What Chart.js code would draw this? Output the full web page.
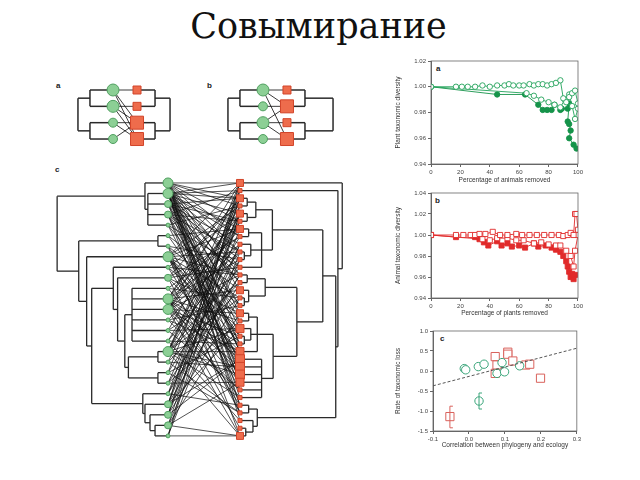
<!DOCTYPE html>
<html>
<head>
<meta charset="utf-8">
<script src="https://cdn.jsdelivr.net/npm/chart.js"></script>
<style>
  body { margin: 0; background: #fff; width: 640px; height: 480px; position: relative; overflow: hidden; }
  canvas { position: absolute; }
  .title { position: absolute; left: 0; width: 637px; top: 9px; text-align: center;
           font: 35px/35px "DejaVu Serif", "Liberation Serif", serif; color: #111; }
  .lbl { position: absolute; font: bold 8px "Liberation Sans", Arial, sans-serif; color: #222; }
</style>
</head>
<body>
<div class="title">Совымирание</div>
<div class="lbl" style="left:56px;top:81px">a</div>
<div class="lbl" style="left:207px;top:81px">b</div>
<div class="lbl" style="left:55px;top:165px">c</div>
<div class="lbl" style="left:436px;top:64px">a</div>
<div class="lbl" style="left:435px;top:196px">b</div>
<div class="lbl" style="left:440px;top:334px">c</div>

<canvas id="netA" width="120" height="70" style="left:60px;top:80px"></canvas>
<canvas id="netB" width="140" height="70" style="left:200px;top:80px"></canvas>
<canvas id="netC" width="310" height="280" style="left:40px;top:165px"></canvas>
<canvas id="plantDiv" width="192" height="130" style="left:393px;top:55px"></canvas>
<canvas id="animalDiv" width="192" height="131" style="left:393px;top:187px"></canvas>
<canvas id="lossChart" width="190" height="125" style="left:393px;top:325px"></canvas>

<script>
// ---- network panels: trees are [height, child, child...], leaves are indices ----
const smallPlantTree = [1.46, [0.96, 0, 1], [0.96, 2, 3]];
const smallAnimalTreeA = [1.375, [0.75, 0, 1], [0.75, 2, 3]];
const smallAnimalTreeB = [1.92, [0.75, 0, 1], [0.75, 2, 3]];
const plantSizeA = [6, 6, 4.5, 4.5];
const animalSizeA = [4, 4, 6.5, 6.5];
const linksA = [[0, 2, 3], [1, 2, 3], [2, 3], [2]];
const plantSizeB = [6, 4.5, 6, 4.5];
const animalSizeB = [4, 6.5, 4, 6.5];
const linksB = [[0, 1, 3], [1], [1, 2, 3], [3]];

const plantTree = [1.54,
  [0.32, 0, [0.28, 1, 2, 3, 4]],
  [1.24, [0.14, 5, 6],
    [1.13, 7,
      [1.06,
        [0.76, 8,
          [0.70, 9,
            [0.60,
              [0.50, 10, 11, 12, 13, 14, 15],
              [0.55, [0.14, 16, 17], [0.14, 18, 19]]]]],
        [0.35, 20, [0.32, 21, [0.25, 22, [0.18, 23, 24]]]]]]]];
const animalTree = [1.42, 0,
  [1.36, 1,
    [1.33,
      [1.15,
        [0.45,
          [0.22, [0.1, 2, 3], [0.1, 4, 5]],
          [0.30, [0.12, 6, 7], [0.15, 8, [0.06, 9, 10]], 11]],
        [0.79,
          [0.35, [0.1, 12, 13], [0.12, 14, [0.06, 15, 16]]],
          [0.46,
            [0.24, [0.12, 17, 18], [0.15, 19, [0.06, 20, 21]], 22],
            [0.30, 23, 24, 25, 26, 27, 28]]]],
      [0.24, [0.12, 29, 30], [0.18, 31, [0.08, 32, 33]]]]]];
const plantSize = [5, 5, 3.5, 3.5, 2, 2, 2, 5, 2, 3.5, 2, 5, 5, 2, 2, 2, 5, 2, 2, 2, 2, 3.5, 3.5, 3.5, 2];
const animalSize = [3.5, 2, 3.5, 2, 3.5, 2, 3.5, 2, 2, 2, 2, 2, 2, 2, 3.5, 2, 2,
  3.5, 2, 4, 2, 2, 4, 4.5, 4.5, 4.5, 4, 2, 2, 2, 2, 2, 2, 3.5];
const links = [
  [0, 2, 3, 5, 7, 9, 12, 14, 17, 20, 22, 24, 27, 29, 31],
  [0, 1, 2, 4, 6, 7, 9, 11, 13, 16, 19, 21, 22, 25, 26, 28, 30],
  [2, 5, 8, 10, 13, 18, 22, 26],
  [1, 5, 9, 12, 16, 21, 25, 29],
  [3, 11, 17, 24],
  [6, 14, 20],
  [10, 16, 23, 33],
  [0, 3, 6, 9, 12, 15, 18, 20, 21, 23, 24, 27, 30],
  [4, 12, 19, 26],
  [2, 7, 11, 17, 22, 30],
  [7, 15, 25],
  [0, 2, 5, 8, 10, 14, 18, 21, 23, 26, 29, 32],
  [1, 4, 6, 9, 12, 17, 20, 22, 24, 28, 33],
  [8, 16, 22, 27],
  [3, 13, 19, 27],
  [5, 9, 21, 31],
  [0, 2, 4, 7, 11, 13, 15, 19, 22, 24, 25, 28, 33],
  [4, 14, 24, 30],
  [1, 10, 20, 30],
  [5, 12, 18, 26],
  [2, 8, 12, 29],
  [0, 2, 6, 13, 19, 23],
  [1, 4, 8, 15, 23],
  [3, 10, 17, 26, 33],
  [0, 4, 9, 33]
];

// ---- right-hand panels ----
const aOpenTopX = [0, 17, 21, 25, 30, 35, 40, 45, 50, 53, 56, 60, 63, 67, 70, 73, 76, 79, 82, 85, 88, 90, 92, 94, 96, 98, 100];
const aOpenTopY = [1.000, 1.000, 1.000, 1.000, 1.000, 1.001, 1.000, 1.001, 1.001, 1.002, 1.001, 1.001, 1.001, 1.002, 1.001, 1.002, 1.002, 1.001, 1.002, 1.003, 1.005, 0.991, 0.988, 0.992, 0.995, 0.997, 0.987];
const aOpenLowX = [0, 65, 70, 75, 80, 84, 88, 91, 94, 96, 98, 100];
const aOpenLowY = [1.000, 0.995, 0.993, 0.990, 0.988, 0.986, 0.984, 0.990, 0.994, 0.985, 0.975, 0.983];
const aFilledX = [0, 45, 64, 73, 76, 79, 82, 84, 88, 89, 93, 94, 93, 94, 95, 94, 97, 99];
const aFilledY = [1.000, 0.994, 0.994, 0.986, 0.982, 0.982, 0.982, 0.986, 0.982, 0.983, 0.983, 0.987, 0.973, 0.971, 0.966, 0.960, 0.955, 0.952];

const bOpenTopX = [0, 17, 22, 27, 30, 33, 37, 42, 47, 52, 58, 62, 67, 72, 77, 82, 87, 90, 93, 95, 97, 98, 99, 100];
const bOpenTopY = [1.000, 1.000, 1.000, 1.000, 1.000, 1.001, 1.001, 1.003, 1.000, 1.000, 1.001, 1.000, 1.000, 1.000, 1.000, 1.000, 1.000, 0.999, 1.000, 1.002, 1.000, 1.020, 1.020, 1.005];
const bOpenLowX = [0, 35, 40, 45, 52, 58, 63, 70, 75, 80, 85, 88, 92, 95, 97, 98, 100];
const bOpenLowY = [1.000, 0.996, 0.995, 0.997, 0.997, 0.995, 0.995, 0.992, 0.993, 0.991, 0.990, 0.990, 0.985, 0.980, 0.970, 0.985, 1.000];
const bFilledX = [0, 17, 30, 33, 36, 39, 45, 48, 52, 55, 60, 64, 70, 73, 78, 82, 85, 88, 90, 92, 93, 94, 95, 96, 97, 98];
const bFilledY = [1.000, 0.998, 0.998, 0.996, 0.993, 0.990, 0.994, 0.990, 0.992, 0.989, 0.990, 0.988, 0.992, 0.989, 0.990, 0.988, 0.986, 0.984, 0.980, 0.975, 0.970, 0.965, 0.960, 0.963, 0.958, 0.962];

const plantCorr = [-0.013, -0.009, 0.026, 0.042, 0.078, 0.092, 0.099, 0.141, 0.028];
const plantRate = [0.06, 0.03, 0.11, 0.17, -0.06, 0.21, -0.02, 0.13, -0.75];
const plantErr = [-0.95, -0.55];
const animalCorr = [0.073, 0.078, 0.073, 0.108, 0.108, 0.122, 0.158, 0.169, 0.199, -0.053];
const animalRate = [0.36, 0.15, -0.06, 0.47, 0.42, 0.25, 0.15, 0.17, -0.18, -1.14];
const animalErr = [-1.42, -0.88];
const fitX = [-0.1, 0.3];
const fitY = [-0.37, 0.57];

const GREEN_FILL = '#8ccf95', GREEN_EDGE = '#4f9f5f';
const RED_FILL = '#ee6c4c', RED_EDGE = '#d2452a';

function layoutTree(node, leafY, segs) {
  if (typeof node === 'number') return { h: 0, y: leafY(node) };
  const h = node[0];
  const kids = node.slice(1).map(n => layoutTree(n, leafY, segs));
  const y0 = kids[0].y, y1 = kids[kids.length - 1].y;
  segs.push([[h, y0], [h, y1]]);
  kids.forEach(k => segs.push([[h, k.y], [k.h, k.y]]));
  return { h: h, y: (y0 + y1) / 2 };
}

function drawNetwork(id, o) {
  const nP = o.plantSize.length, nA = o.animalSize.length;
  const pY = i => i / (nP - 1), aY = j => j / (nA - 1);
  const datasets = [];
  const segLine = (pts, color, w, order) => datasets.push({
    data: pts, showLine: true, pointRadius: 0, borderColor: color, borderWidth: w, order: order
  });
  const pSegs = [], aSegs = [];
  layoutTree(o.plantTree, pY, pSegs);
  layoutTree(o.animalTree, aY, aSegs);
  pSegs.forEach(s => segLine(s.map(p => ({ x: -p[0], y: p[1] })), '#2a2a2a', o.treeW, 3));
  aSegs.forEach(s => segLine(s.map(p => ({ x: 1 + p[0], y: p[1] })), '#2a2a2a', o.treeW, 3));
  o.links.forEach((list, i) => list.forEach(j =>
    segLine([{ x: 0, y: pY(i) }, { x: 1, y: aY(j) }], 'rgba(15,15,15,0.9)', o.linkW, 2)));
  datasets.push({
    data: o.plantSize.map((r, i) => ({ x: 0, y: pY(i) })),
    pointStyle: 'circle', pointRadius: o.plantSize, pointBackgroundColor: GREEN_FILL,
    pointBorderColor: GREEN_EDGE, pointBorderWidth: 1, showLine: false, order: 0
  });
  datasets.push({
    data: o.animalSize.map((r, j) => ({ x: 1, y: aY(j) })),
    pointStyle: 'rect', pointRadius: o.animalSize.map(s => s * Math.SQRT2), pointBackgroundColor: RED_FILL,
    pointBorderColor: RED_EDGE, pointBorderWidth: 1, showLine: false, order: 0
  });
  new Chart(id, {
    type: 'scatter',
    data: { datasets: datasets },
    options: {
      animation: false, responsive: false, events: [],
      layout: { padding: 0, autoPadding: false },
      plugins: { legend: { display: false }, tooltip: { enabled: false } },
      scales: {
        x: { display: false, min: o.x[0], max: o.x[1] },
        y: { display: false, min: o.y[0], max: o.y[1], reverse: true }
      }
    }
  });
}

drawNetwork('netA', {
  plantTree: smallPlantTree, animalTree: smallAnimalTreeA, plantSize: plantSizeA, animalSize: animalSizeA,
  links: linksA, treeW: 1.5, linkW: 0.9, x: [-2.208, 2.79], y: [-0.204, 1.224]
});
drawNetwork('netB', {
  plantTree: smallPlantTree, animalTree: smallAnimalTreeB, plantSize: plantSizeB, animalSize: animalSizeB,
  links: linksB, treeW: 1.5, linkW: 0.9, x: [-2.625, 3.21], y: [-0.204, 1.224]
});
drawNetwork('netC', {
  plantTree: plantTree, animalTree: animalTree, plantSize: plantSize, animalSize: animalSize,
  links: links, treeW: 1.3, linkW: 0.8, x: [-1.778, 2.528], y: [-0.071, 1.036]
});

// ---- small line/scatter charts ----
const frame = {
  id: 'frame',
  afterDraw(chart) {
    const a = chart.chartArea, c = chart.ctx;
    c.save(); c.strokeStyle = '#666'; c.lineWidth = 0.8;
    c.strokeRect(a.left, a.top, a.right - a.left, a.bottom - a.top);
    c.restore();
  }
};
const zip = (xs, ys) => xs.map((x, i) => ({ x: x, y: ys[i] }));
const tickFont = { family: 'Liberation Sans, Arial, sans-serif', size: 6 };
const titleFont = { family: 'Liberation Sans, Arial, sans-serif', size: 6.5 };

function axis(min, max, step, title, fit, dec) {
  return {
    min: min, max: max,
    ticks: { stepSize: step, font: tickFont, color: '#444', padding: 2,
             callback: v => dec === undefined ? v : Number(v).toFixed(dec) },
    title: { display: true, text: title, font: titleFont, color: '#333', padding: 1 },
    grid: { drawOnChartArea: false, tickLength: 3, color: '#666' },
    border: { color: '#666' },
    afterFit: fit
  };
}
function smallChart(id, datasets, xa, ya) {
  new Chart(id, {
    type: 'scatter',
    data: { datasets: datasets },
    options: {
      animation: false, responsive: false, events: [],
      layout: { padding: { top: 6, right: 5, left: 0, bottom: 0 }, autoPadding: false },
      plugins: { legend: { display: false }, tooltip: { enabled: false } },
      scales: { x: xa, y: ya }
    },
    plugins: [frame]
  });
}
const series = (xs, ys, color, fill, style, r) => ({
  data: zip(xs, ys), showLine: true, borderColor: color, borderWidth: 0.9,
  pointStyle: style, pointRadius: r, pointBackgroundColor: fill, pointBorderColor: color, pointBorderWidth: 0.9
});

smallChart('plantDiv', [
  series(aOpenTopX, aOpenTopY, '#22a35a', '#fff', 'circle', 2.7),
  series(aOpenLowX, aOpenLowY, '#22a35a', '#fff', 'circle', 2.7),
  series(aFilledX, aFilledY, '#15934a', '#15934a', 'circle', 2.7)
],
  axis(0, 100, 20, 'Percentage of animals removed', s => { s.height = 21; }),
  axis(0.94, 1.02, 0.02, 'Plant taxonomic diversity', s => { s.width = 38; }, 2));

smallChart('animalDiv', [
  series(bOpenTopX, bOpenTopY, '#e12a2a', '#fff', 'rect', 3.6),
  series(bOpenLowX, bOpenLowY, '#e12a2a', '#fff', 'rect', 3.6),
  series(bFilledX, bFilledY, '#e12a2a', '#e12a2a', 'rect', 3.6)
],
  axis(0, 100, 20, 'Percentage of plants removed', s => { s.height = 20; }),
  axis(0.94, 1.04, 0.02, 'Animal taxonomic diversity', s => { s.width = 38; }, 2));

const errBar = (x, ys, color) => ({
  data: ys.map(y => ({ x: x, y: y })), showLine: true, borderColor: color, borderWidth: 1,
  pointStyle: 'dash', pointRadius: 3, pointBorderColor: color, pointBorderWidth: 1
});
smallChart('lossChart', [
  { data: zip(fitX, fitY), showLine: true, borderColor: '#444', borderWidth: 0.9, borderDash: [3, 2], pointRadius: 0 },
  errBar(plantCorr[8], plantErr, '#3aa57a'),
  errBar(animalCorr[9], animalErr, '#d9625c'),
  { data: zip(plantCorr, plantRate), pointStyle: 'circle', pointRadius: 4.2, pointBackgroundColor: '#fff',
    pointBorderColor: '#3aa57a', pointBorderWidth: 1 },
  { data: zip(animalCorr, animalRate), pointStyle: 'rect', pointRadius: 5.8, pointBackgroundColor: '#fff',
    pointBorderColor: '#d9625c', pointBorderWidth: 1 }
],
  axis(-0.1, 0.3, 0.1, 'Correlation between phylogeny and ecology', s => { s.height = 19; }, 1),
  axis(-1.5, 1.0, 0.5, 'Rate of taxonomic loss', s => { s.width = 40; }, 1));
</script>
</body>
</html>
